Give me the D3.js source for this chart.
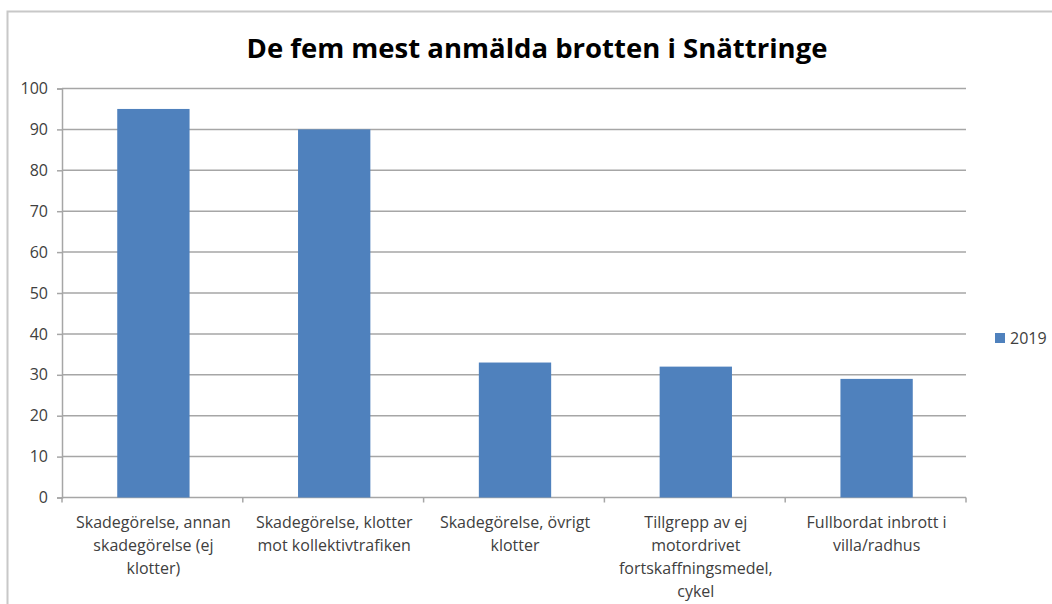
<!DOCTYPE html>
<html>
<head>
<meta charset="utf-8">
<script src="https://cdn.jsdelivr.net/npm/d3@7"></script>
<style>
  body { margin: 0; background: #fff; }
  text { font-family: "Open Sans", "Noto Sans", sans-serif; }
</style>
</head>
<body>
<div id="chart-area"></div>
<script>
// chart data
var categories = [
    "Skadegörelse, annan\nskadegörelse (ej\nklotter)",
    "Skadegörelse, klotter\nmot kollektivtrafiken",
    "Skadegörelse, övrigt\nklotter",
    "Tillgrepp av ej\nmotordrivet\nfortskaffningsmedel,\ncykel",
    "Fullbordat inbrott i\nvilla/radhus"
];
var values2019 = [95, 90, 33, 32, 29];
var seriesName = "2019";
var yTicks = [0, 10, 20, 30, 40, 50, 60, 70, 80, 90, 100];
var title = "De fem mest anmälda brotten i Snättringe";

var W = 1052, H = 604;
var margin = {left: 62, top: 88.5, right: 86, bottom: 106.5};
var width = W - margin.left - margin.right;
var height = H - margin.top - margin.bottom;

var svg = d3.select("#chart-area")
    .append("svg")
        .attr("width", W)
        .attr("height", H);

// outer frame
svg.append("path")
    .attr("d", "M7.5," + H + "V11.5H" + W)
    .attr("fill", "none")
    .attr("stroke", "#c8c8c8")
    .attr("stroke-width", 2);

// title
svg.append("text")
    .attr("x", 537)
    .attr("y", 58)
    .attr("text-anchor", "middle")
    .attr("font-size", "27.5px")
    .attr("font-weight", "bold")
    .attr("fill", "#000")
    .text(title);

var g = svg.append("g")
    .attr("transform", "translate(" + margin.left + ", " + margin.top + ")");

var x = d3.scaleBand()
    .domain(categories)
    .range([0, width])
    .paddingInner(0.6)
    .paddingOuter(0.3);

var y = d3.scaleLinear()
    .domain([0, 100])
    .range([height, 0]);

// gridlines
g.selectAll(".grid")
    .data(yTicks.filter(function(d){ return d > 0; }))
    .enter().append("line")
        .attr("class", "grid")
        .attr("x1", 0)
        .attr("x2", width)
        .attr("y1", function(d){ return y(d); })
        .attr("y2", function(d){ return y(d); })
        .attr("stroke", "#a6a6a6")
        .attr("stroke-width", 1.5);

// y axis
var yAxisCall = d3.axisLeft(y)
    .tickValues(yTicks)
    .tickSize(5)
    .tickPadding(9);
var yAxis = g.append("g")
    .attr("class", "y-axis")
    .call(yAxisCall);
yAxis.select(".domain").attr("stroke", "#a6a6a6").attr("stroke-width", 1.5);
yAxis.selectAll(".tick line").attr("stroke", "#a6a6a6").attr("stroke-width", 1.5);
yAxis.selectAll(".tick text")
    .attr("font-size", "16px")
    .attr("fill", "#404040")
    .attr("font-family", "\"Open Sans\", sans-serif");

// x axis baseline + boundary ticks
var step = width / categories.length;
g.append("line")
    .attr("x1", 0).attr("x2", width)
    .attr("y1", height).attr("y2", height)
    .attr("stroke", "#a6a6a6").attr("stroke-width", 1.5);
g.selectAll(".xtick")
    .data(d3.range(categories.length + 1))
    .enter().append("line")
        .attr("class", "xtick")
        .attr("x1", function(i){ return i * step; })
        .attr("x2", function(i){ return i * step; })
        .attr("y1", height)
        .attr("y2", height + 5)
        .attr("stroke", "#a6a6a6").attr("stroke-width", 1.5);

// bars
g.selectAll("rect.bar")
    .data(values2019)
    .enter().append("rect")
        .attr("class", "bar")
        .attr("x", function(d, i){ return x(categories[i]) + 1; })
        .attr("y", function(d){ return y(d); })
        .attr("width", x.bandwidth())
        .attr("height", function(d){ return height - y(d); })
        .attr("fill", "#4f81bd");

// category labels
var labels = g.selectAll(".xlabel")
    .data(categories)
    .enter().append("text")
        .attr("class", "xlabel")
        .attr("text-anchor", "middle")
        .attr("font-size", "16px")
        .attr("fill", "#404040")
        .attr("transform", function(d){
            return "translate(" + (x(d) + x.bandwidth() / 2 + 1) + "," + (height + 30) + ")";
        });
labels.selectAll("tspan")
    .data(function(d){ return d.split("\n"); })
    .enter().append("tspan")
        .attr("x", 0)
        .attr("dy", function(d, i){ return i === 0 ? 0 : 23; })
        .text(function(d){ return d; });

// legend
var legend = svg.append("g")
    .attr("transform", "translate(995, 333)");
legend.append("rect")
    .attr("width", 10)
    .attr("height", 10)
    .attr("fill", "#4f81bd");
legend.append("text")
    .attr("x", 15)
    .attr("y", 11)
    .attr("font-size", "16px")
    .attr("fill", "#404040")
    .text(seriesName);
</script>
</body>
</html>
